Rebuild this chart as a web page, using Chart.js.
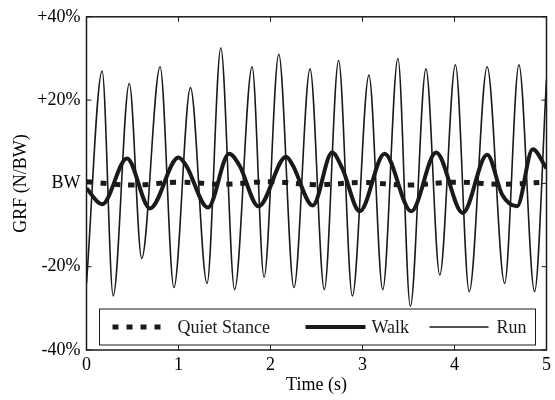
<!DOCTYPE html>
<html>
<head>
<meta charset="utf-8">
<script src="https://cdn.jsdelivr.net/npm/chart.js@4"></script>
<style>
html, body { margin: 0; padding: 0; background: #fff; }
#wrap { width: 555px; height: 400px; }
</style>
</head>
<body>
<div id="wrap"><canvas id="chart"></canvas></div>
<script>
// values (time in s, GRF in % of BW)
const quietT = [0, 0.5, 1, 1.5, 2, 2.5, 3, 3.5, 4, 4.5, 5];
const quietV = [0.4, -0.4, 0.3, -0.2, 0.4, -0.3, 0.2, -0.4, 0.3, -0.2, 0.3];

const walkT = [0, 0.17, 0.44, 0.69, 1.0, 1.08, 1.32, 1.55, 1.66, 1.87, 2.17, 2.24, 2.46, 2.67, 2.78, 2.97, 3.24, 3.53, 3.8, 4.09, 4.355, 4.52, 4.68, 4.85, 5];
const walkV = [-1.2, -5, 6, -6, 6.2, 4.4, -5.8, 7.1, 4.4, -5.5, 6.4, 4.4, -5.3, 7.4, 3.6, -6.7, 7.1, -6.7, 7.4, -7.1, 6.9, -2.8, -5.5, 8.2, 3.6];

const runT = [0, 0.17, 0.29, 0.465, 0.6, 0.8, 0.95, 1.13, 1.31, 1.46, 1.61, 1.8, 1.93, 2.09, 2.255, 2.43, 2.585, 2.74, 2.89, 3.07, 3.22, 3.385, 3.52, 3.69, 3.84, 4.01, 4.16, 4.355, 4.545, 4.7, 4.87, 5];
const runV = [-24, 27, -27, 24, -18, 28, -25, 23, -24, 32.5, -25.5, 28, -22.5, 31, -25, 27.5, -25.5, 29.5, -27, 26, -25.5, 30, -29.5, 27.5, -22, 28.5, -26, 28, -24, 28.5, -26, 25];

const yTickValues = [-40, -20, 0, 20, 40];
const yTickLabels = ["-40%", "-20%", "BW", "+20%", "+40%"];

const ink = "#1a1a1a";
const serif = "'Liberation Serif', 'Times New Roman', serif";

function pts(t, v) {
    return t.map((x, i) => ({ x: x, y: v[i] }));
}

// box, inward ticks and the legend inside the plot, MATLAB style
const framePlugin = {
    id: "frame",
    afterDraw(chart) {
        const ctx = chart.ctx;
        const ca = chart.chartArea;
        const xs = chart.scales.x;
        const ys = chart.scales.y;
        ctx.save();
        ctx.strokeStyle = ink;
        ctx.lineWidth = 1.5;
        ctx.strokeRect(ca.left, ca.top, ca.right - ca.left, ca.bottom - ca.top);
        ctx.lineWidth = 1;
        ctx.beginPath();
        xs.ticks.forEach(t => {
            const px = xs.getPixelForValue(t.value);
            ctx.moveTo(px, ca.bottom); ctx.lineTo(px, ca.bottom - 5);
            ctx.moveTo(px, ca.top); ctx.lineTo(px, ca.top + 5);
        });
        ys.ticks.forEach(t => {
            const py = ys.getPixelForValue(t.value);
            ctx.moveTo(ca.left, py); ctx.lineTo(ca.left + 5, py);
            ctx.moveTo(ca.right, py); ctx.lineTo(ca.right - 5, py);
        });
        ctx.stroke();

        // legend
        const bl = ca.left + 13, br = ca.right - 11;
        const bt = ca.bottom - 41, bb = ca.bottom - 5;
        const my = (bt + bb) / 2;
        ctx.fillStyle = "#fff";
        ctx.fillRect(bl, bt, br - bl, bb - bt);
        ctx.lineWidth = 1;
        ctx.strokeRect(bl, bt, br - bl, bb - bt);

        const items = [
            { ds: 0, x0: 13, x1: 64, tx: 78 },
            { ds: 1, x0: 206, x1: 266, tx: 272 },
            { ds: 2, x0: 330, x1: 389, tx: 397 }
        ];
        ctx.font = "18px " + serif;
        ctx.textBaseline = "middle";
        ctx.textAlign = "left";
        items.forEach(it => {
            const d = chart.data.datasets[it.ds];
            ctx.beginPath();
            ctx.lineWidth = d.borderWidth;
            ctx.setLineDash(d.borderDash || []);
            ctx.lineCap = "butt";
            ctx.moveTo(bl + it.x0, my);
            ctx.lineTo(bl + it.x1, my);
            ctx.stroke();
            ctx.setLineDash([]);
            ctx.fillStyle = ink;
            ctx.fillText(d.label, bl + it.tx, my + 1);
        });
        ctx.restore();
    }
};

const ctx = document.getElementById("chart").getContext("2d");

const chart = new Chart(ctx, {
    type: "line",
    data: {
        datasets: [
            {
                label: "Quiet Stance",
                data: pts(quietT, quietV),
                borderColor: ink,
                borderWidth: 5,
                borderDash: [6, 8],
                pointRadius: 0,
                tension: 0.4
            },
            {
                label: "Walk",
                data: pts(walkT, walkV),
                borderColor: ink,
                borderWidth: 4,
                pointRadius: 0,
                cubicInterpolationMode: "monotone"
            },
            {
                label: "Run",
                data: pts(runT, runV),
                borderColor: ink,
                borderWidth: 1.6,
                pointRadius: 0,
                cubicInterpolationMode: "monotone"
            }
        ]
    },
    options: {
        responsive: true,
        maintainAspectRatio: false,
        animation: false,
        layout: { padding: { top: 14, right: 5, left: 0, bottom: 0 } },
        plugins: {
            legend: { display: false },
            tooltip: { enabled: false }
        },
        scales: {
            x: {
                type: "linear",
                min: 0,
                max: 5,
                grid: { display: false, drawTicks: false },
                border: { display: false },
                ticks: {
                    stepSize: 1,
                    color: "#000",
                    padding: 4,
                    maxRotation: 0,
                    font: { family: serif, size: 18 }
                },
                title: {
                    display: true,
                    text: "Time (s)",
                    color: "#000",
                    padding: { top: 0, bottom: 4 },
                    font: { family: serif, size: 18 }
                },
                afterFit(scale) { scale.height = 50; }
            },
            y: {
                min: -40,
                max: 40,
                grid: { display: false, drawTicks: false },
                border: { display: false },
                afterBuildTicks(scale) {
                    scale.ticks = yTickValues.map(v => ({ value: v }));
                },
                ticks: {
                    color: "#000",
                    padding: 6,
                    font: { family: serif, size: 18 },
                    callback: v => yTickLabels[yTickValues.indexOf(v)]
                },
                title: {
                    display: true,
                    text: "GRF (N/BW)",
                    color: "#000",
                    padding: { top: 10, bottom: 0 },
                    font: { family: serif, size: 18 }
                },
                afterFit(scale) { scale.width = 86.5; }
            }
        }
    },
    plugins: [framePlugin]
});
</script>
</body>
</html>
